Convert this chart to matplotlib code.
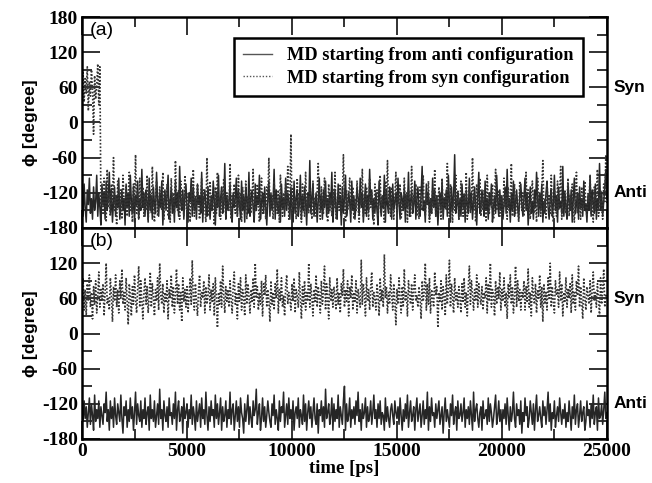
import numpy as np
import matplotlib
matplotlib.use("Agg")
import matplotlib.pyplot as plt
from matplotlib.ticker import MultipleLocator, FuncFormatter

plt.rcParams["axes.unicode_minus"] = False

# ---------------- data (phi in degrees, sampled every 50 ps) ----------------
a_anti = [
    -125,-160,-105,-145,-170,-115,-140,-95,-155,-130,-165,-110,-150,-135,-90,-160,-120,-145,-175,-105,
    -140,-120,-165,-100,-150,-130,-85,-155,-115,-170,-135,-110,-160,-125,-145,-95,-165,-140,-115,-150,
    -130,-175,-105,-145,-120,-160,-90,-135,-155,-110,-170,-125,-140,-100,-165,-130,-150,-80,-145,-120,
    -160,-115,-135,-170,-95,-150,-125,-165,-110,-140,-155,-85,-130,-160,-120,-145,-100,-175,-135,-115,
    -150,-125,-90,-165,-140,-110,-155,-130,-170,-100,-145,-120,-160,-75,-135,-150,-115,-165,-125,-105,
    -145,-170,-120,-135,-95,-160,-110,-150,-130,-165,-105,-140,-125,-155,-85,-170,-130,-115,-145,-160,
    -110,-140,-165,-125,-150,-100,-135,-175,-120,-145,-90,-160,-130,-110,-155,-140,-70,-165,-125,-150,
    -135,-105,-155,-170,-120,-145,-130,-95,-160,-115,-140,-165,-100,-150,-125,-170,-110,-135,-155,-85,
    -160,-130,-115,-145,-170,-105,-150,-125,-140,-90,-165,-135,-120,-155,-110,-145,-175,-130,-100,-160,
    -120,-150,-135,-80,-165,-115,-140,-155,-125,-170,-105,-145,-130,-160,-95,-150,-120,-135,-165,-110,
    -145,-170,-100,-155,-130,-115,-160,-140,-90,-165,-125,-150,-110,-135,-175,-120,-145,-65,-155,-130,
    -105,-160,-140,-120,-170,-135,-95,-150,-125,-165,-115,-145,-100,-160,-130,-155,-120,-140,-85,-170,
    -135,-115,-150,-165,-105,-140,-125,-175,-110,-155,-130,-90,-160,-145,-120,-135,-170,-100,-150,-125,
    -165,-140,-110,-130,-155,-95,-145,-120,-170,-135,-105,-160,-125,-150,-80,-140,-115,-165,-130,-155,
    -120,-150,-175,-100,-135,-160,-125,-145,-90,-170,-115,-140,-155,-110,-130,-165,-105,-150,-135,-120,
    -155,-95,-140,-165,-120,-130,-150,-110,-170,-125,-145,-85,-160,-135,-115,-155,-140,-100,-165,-130,
    -110,-145,-160,-125,-75,-150,-135,-170,-105,-140,-120,-165,-130,-155,-95,-145,-115,-160,-125,-175,
    -140,-120,-150,-100,-165,-130,-145,-115,-160,-90,-135,-170,-110,-150,-125,-55,-155,-140,-120,-165,
    -130,-160,-105,-145,-125,-170,-115,-140,-155,-95,-150,-120,-165,-135,-110,-145,-175,-125,-85,-155,
    -145,-115,-135,-160,-100,-150,-130,-165,-120,-140,-105,-170,-145,-125,-155,-90,-135,-160,-115,-150,
    -125,-165,-140,-110,-155,-80,-145,-130,-170,-120,-150,-100,-160,-135,-115,-145,-165,-125,-105,-140,
    -160,-130,-95,-150,-120,-175,-140,-110,-155,-135,-165,-115,-145,-85,-130,-160,-120,-150,-105,-170,
    -135,-155,-120,-100,-145,-165,-130,-115,-160,-140,-90,-150,-125,-170,-110,-145,-135,-155,-75,-160,
    -120,-145,-165,-105,-135,-150,-115,-170,-130,-95,-155,-140,-120,-165,-110,-145,-130,-160,-100,-150,
    -140,-170,-125,-150,-90,-160,-115,-135,-155,-105,-165,-130,-145,-70,-150,-120,-160,-135,-110,-80,
    -130,
]
a_syn = [
    60,85,35,75,50,95,20,70,45,90,55,-20,80,40,65,100,30,95,-140,-110,
    -155,-95,-135,-170,-80,-145,-120,-160,-105,-140,-60,-150,-125,-175,-100,-135,-155,-115,-165,-90,
    -130,-145,-110,-160,-125,-85,-150,-135,-170,-105,-140,-55,-155,-120,-165,-95,-145,-130,-110,-160,
    -120,-150,-90,-165,-135,-115,-155,-75,-140,-170,-125,-100,-160,-145,-110,-135,-150,-85,-165,-120,
    -145,-105,-160,-130,-170,-95,-140,-120,-155,-65,-135,-150,-115,-165,-100,-145,-125,-160,-90,-140,
    -155,-120,-135,-170,-110,-145,-80,-160,-125,-150,-105,-140,-165,-130,-95,-155,-115,-145,-170,-60,
    -135,-160,-100,-150,-125,-140,-175,-110,-155,-85,-145,-130,-165,-115,-150,-95,-140,-160,-120,-135,
    -150,-70,-165,-125,-140,-105,-155,-130,-160,-90,-145,-120,-170,-110,-135,-150,-100,-165,-125,-145,
    -115,-155,-135,-80,-160,-130,-150,-105,-140,-170,-120,-95,-155,-145,-125,-165,-110,-135,-60,-150,
    -140,-125,-165,-100,-145,-130,-155,-115,-170,-90,-135,-160,-120,-150,-105,-140,-75,-165,-130,-20,
    -155,-110,-145,-130,-165,-95,-150,-120,-140,-170,-105,-135,-160,-85,-145,-125,-155,-115,-140,-165,
    -100,-150,-130,-160,-120,-70,-145,-165,-110,-135,-155,-95,-140,-125,-170,-105,-150,-130,-160,-115,
    -145,-85,-165,-135,-120,-150,-105,-160,-130,-55,-140,-170,-115,-150,-125,-95,-155,-135,-110,-165,
    -130,-150,-100,-145,-170,-120,-140,-80,-160,-125,-155,-110,-135,-165,-95,-145,-120,-150,-175,-105,
    -140,-115,-160,-130,-90,-155,-125,-145,-170,-100,-135,-65,-150,-120,-160,-110,-140,-165,-130,-85,
    -155,-125,-140,-105,-165,-135,-150,-95,-145,-120,-170,-115,-130,-160,-75,-150,-125,-140,-105,-160,
    -135,-165,-110,-150,-125,-90,-145,-160,-120,-140,-100,-170,-130,-155,-115,-145,-80,-160,-125,-150,
    -110,-140,-165,-95,-155,-130,-120,-150,-70,-145,-160,-105,-135,-170,-125,-150,-90,-140,-115,-165,
    -145,-100,-130,-160,-120,-150,-85,-165,-135,-110,-155,-140,-60,-150,-125,-170,-105,-145,-130,-95,
    -160,-125,-150,-115,-140,-170,-90,-135,-155,-120,-145,-105,-165,-130,-80,-150,-140,-115,-160,-125,
    -135,-155,-95,-145,-120,-165,-110,-150,-130,-70,-160,-140,-105,-155,-125,-145,-170,-100,-135,-150,
    -120,-160,-135,-85,-150,-115,-145,-165,-125,-100,-140,-155,-130,-170,-95,-145,-120,-160,-110,-65,
    -150,-130,-165,-105,-140,-125,-155,-90,-145,-170,-115,-135,-160,-100,-150,-120,-75,-165,-140,-130,
    -115,-155,-140,-95,-160,-125,-150,-105,-145,-170,-130,-85,-155,-120,-140,-165,-110,-150,-135,-100,
    -145,-160,-120,-135,-90,-155,-130,-170,-110,-150,-125,-80,-160,-140,-115,-145,-165,-105,-135,-55,
    -140,
]
b_anti = [
    -130,-150,-115,-145,-125,-160,-135,-110,-155,-120,-140,-165,-105,-150,-130,-145,-115,-160,-125,-140,
    -155,-120,-135,-100,-150,-130,-165,-115,-145,-125,-160,-110,-140,-155,-120,-135,-150,-105,-145,-170,
    -125,-140,-115,-160,-130,-150,-110,-145,-125,-165,-135,-100,-155,-120,-140,-150,-115,-160,-130,-145,
    -110,-155,-135,-125,-165,-105,-145,-130,-150,-115,-160,-140,-120,-155,-95,-145,-130,-165,-115,-140,
    -150,-125,-160,-110,-140,-135,-155,-120,-145,-100,-165,-130,-115,-150,-140,-125,-170,-110,-145,-135,
    -120,-160,-130,-145,-105,-155,-125,-140,-165,-115,-150,-135,-120,-160,-110,-145,-130,-155,-100,-140,
    -165,-125,-150,-115,-140,-130,-160,-105,-145,-120,-155,-135,-110,-165,-125,-150,-140,-115,-160,-130,
    -145,-100,-155,-130,-120,-165,-140,-115,-150,-125,-160,-110,-135,-145,-170,-120,-150,-130,-105,-155,
    -125,-145,-160,-115,-140,-130,-95,-155,-135,-120,-165,-145,-110,-150,-125,-160,-140,-115,-135,-150,
    -160,-120,-140,-105,-155,-130,-145,-165,-115,-150,-125,-135,-100,-160,-140,-120,-155,-110,-145,-130,
    -150,-115,-165,-135,-125,-145,-110,-160,-130,-140,-155,-105,-150,-120,-165,-135,-115,-145,-125,-160,
    -135,-110,-145,-155,-120,-170,-130,-140,-115,-150,-125,-160,-95,-145,-135,-120,-155,-140,-110,-165,
    -120,-150,-130,-145,-105,-160,-125,-140,-155,-115,-90,-165,-120,-150,-140,-110,-160,-130,-145,-125,
    -155,-115,-140,-100,-150,-130,-165,-120,-145,-135,-110,-160,-125,-150,-140,-115,-155,-135,-105,-145,
    -130,-160,-120,-145,-115,-155,-135,-140,-165,-110,-150,-125,-145,-160,-130,-120,-140,-155,-115,-135,
    -145,-125,-155,-110,-140,-165,-130,-150,-120,-145,-105,-160,-135,-115,-150,-140,-125,-165,-130,-110,
    -150,-135,-120,-160,-140,-115,-155,-130,-145,-100,-165,-125,-150,-110,-140,-135,-160,-120,-145,-130,
    -115,-155,-140,-125,-170,-135,-110,-150,-130,-145,-160,-120,-140,-105,-155,-135,-125,-165,-115,-145,
    -140,-120,-150,-135,-110,-160,-130,-145,-125,-155,-115,-140,-165,-100,-150,-130,-120,-145,-160,-135,
    -125,-165,-115,-145,-140,-130,-155,-110,-150,-120,-135,-160,-145,-125,-105,-155,-140,-115,-150,-130,
    -160,-130,-145,-120,-155,-110,-140,-165,-125,-150,-135,-100,-145,-160,-120,-140,-130,-155,-115,-170,
    -135,-150,-110,-140,-125,-160,-145,-115,-135,-155,-120,-165,-130,-105,-150,-140,-125,-145,-160,-115,
    -140,-125,-155,-130,-100,-150,-120,-165,-135,-145,-115,-160,-140,-125,-150,-110,-135,-155,-130,-145,
    -120,-160,-135,-150,-115,-140,-165,-125,-145,-105,-155,-130,-120,-160,-140,-115,-150,-135,-125,-165,
    -150,-115,-140,-130,-160,-120,-145,-105,-155,-135,-125,-165,-110,-145,-140,-120,-155,-130,-100,-145,
    -135,
]
b_syn = [
    60,95,40,75,30,85,55,100,45,70,25,80,50,90,35,65,105,45,75,55,
    85,30,70,120,50,60,40,95,65,20,80,55,100,45,75,35,90,60,110,50,
    70,40,95,55,15,85,65,30,80,50,100,60,35,75,115,45,90,55,25,70,
    95,50,80,35,65,105,45,85,60,30,75,55,95,40,120,65,50,85,35,70,
    55,90,25,75,60,100,45,80,35,65,110,50,85,40,70,20,95,55,75,45,
    80,35,65,95,50,125,60,40,85,55,30,75,100,45,70,60,90,35,80,50,
    65,100,40,75,55,85,30,95,60,10,70,50,90,45,115,65,35,80,55,75,
    45,90,60,35,80,105,50,70,25,85,55,95,40,75,60,30,100,50,85,65,
    35,75,55,95,45,120,60,80,40,70,50,90,30,85,65,100,45,75,55,20,
    90,50,70,40,85,60,110,35,75,55,95,45,65,30,80,100,50,70,60,40,
    85,55,95,35,75,65,45,105,60,25,80,50,90,40,70,55,120,45,85,60,
    30,75,55,100,45,80,65,35,90,50,70,115,40,85,60,25,95,55,75,45,
    80,60,40,95,50,70,35,85,65,110,45,75,55,90,30,80,60,100,40,70,
    55,90,35,75,60,45,125,50,85,65,30,95,55,75,40,80,105,45,70,60,
    40,85,65,30,95,55,75,45,135,60,80,35,70,50,100,65,40,85,55,15,
    75,50,95,60,35,80,45,110,55,70,30,90,65,50,85,40,75,100,55,65,
    45,80,60,25,90,55,70,120,40,85,50,95,35,75,60,45,105,65,80,10,
    70,55,90,40,80,65,30,100,50,75,125,45,85,60,35,95,55,70,45,80,
    60,35,85,55,95,45,70,30,80,115,50,90,65,40,75,55,100,45,85,60,
    50,80,40,70,60,95,35,85,55,120,45,75,65,30,90,50,80,60,105,40,
    75,55,95,45,70,25,85,60,100,50,80,35,65,115,45,90,55,75,40,70,
    60,90,40,80,55,110,45,70,30,95,65,50,85,35,75,60,100,45,80,20,
    85,50,70,40,95,60,120,45,80,55,35,90,65,75,45,105,55,85,30,70,
    55,95,45,75,60,85,35,100,50,70,40,90,65,115,45,80,55,25,95,60,
    40,80,65,50,90,35,75,105,55,70,45,85,60,30,95,50,75,110,45,65,
    60,
]
t_end = 25000
legend_labels = ["MD starting from anti configuration",
                 "MD starting from syn configuration"]
panel_labels = ["(a)", "(b)"]
state_labels = [("Syn", 60), ("Anti", -120)]

# ---------------- figure ----------------
fig = plt.figure(figsize=(6.52, 4.83), dpi=100)
ax_a = fig.add_axes([0.1258, 0.528, 0.805, 0.4368])
ax_b = fig.add_axes([0.1258, 0.0911, 0.805, 0.4368])

serif_bold = dict(family="Liberation Serif", weight="bold")
sans_bold = dict(family="Liberation Sans", weight="bold")

solid_kw = dict(color="#262626", lw=1.1, ls="-")
dot_kw = dict(color="#333333", lw=1.2, ls=(0, (1, 1.1)))

for ax, anti, syn, plab in [(ax_a, a_anti, a_syn, panel_labels[0]),
                            (ax_b, b_anti, b_syn, panel_labels[1])]:
    t_anti = np.linspace(0, t_end, len(anti))
    t_syn = np.linspace(0, t_end, len(syn))
    ax.plot(t_anti, anti, **solid_kw, label=legend_labels[0])
    ax.plot(t_syn, syn, **dot_kw, label=legend_labels[1])
    ax.set_xlim(0, t_end)
    ax.set_ylim(-180, 180)
    ax.yaxis.set_major_locator(MultipleLocator(60))
    ax.yaxis.set_minor_locator(MultipleLocator(30))
    ax.xaxis.set_major_locator(MultipleLocator(5000))
    ax.xaxis.set_minor_locator(MultipleLocator(2500))
    ax.tick_params(which="both", direction="in", top=True, right=True,
                   width=1.3, color="#222222", pad=3)
    ax.tick_params(which="major", length=13)
    ax.tick_params(which="minor", length=7)
    for sp in ax.spines.values():
        sp.set_linewidth(1.8)
    ax.set_ylabel("ϕ [degree]", fontsize=12.5, labelpad=3, **sans_bold)
    ax.text(0.015, 0.975, plab, transform=ax.transAxes, fontsize=14,
            family="Liberation Sans", va="top", ha="left")
    for name, yv in state_labels:
        ax.text(1.012, yv, name, transform=ax.get_yaxis_transform(),
                fontsize=12.5, va="center", ha="left", **sans_bold)

ax_b.yaxis.set_major_formatter(FuncFormatter(lambda v, p: "" if v >= 179 else f"{v:.0f}"))
ax_a.tick_params(labelbottom=False)
for ax in (ax_a, ax_b):
    for lab in ax.get_yticklabels() + ax.get_xticklabels():
        lab.set_fontfamily("Liberation Serif")
        lab.set_fontweight("bold")
        lab.set_fontsize(14)
ax_b.set_xlabel("time [ps]", fontsize=13.5, labelpad=0, **serif_bold)

legend_handles = [plt.Line2D([], [], color="#555555", lw=1.0, ls="-"),
                  plt.Line2D([], [], color="#555555", lw=1.0, ls=(0, (1, 1.3)))]
leg = ax_a.legend(legend_handles, legend_labels,
                  loc="upper right", bbox_to_anchor=(0.954, 0.90),
                  prop=dict(family="Liberation Serif", weight="bold", size=13.2),
                  frameon=True, fancybox=False, borderpad=0.5,
                  handlelength=1.6, handletextpad=0.8, labelspacing=0.3,
                  borderaxespad=0)
leg.get_frame().set_edgecolor("black")
leg.get_frame().set_linewidth(1.8)
leg.get_frame().set_alpha(1)

fig.savefig("out.png", dpi=100)
